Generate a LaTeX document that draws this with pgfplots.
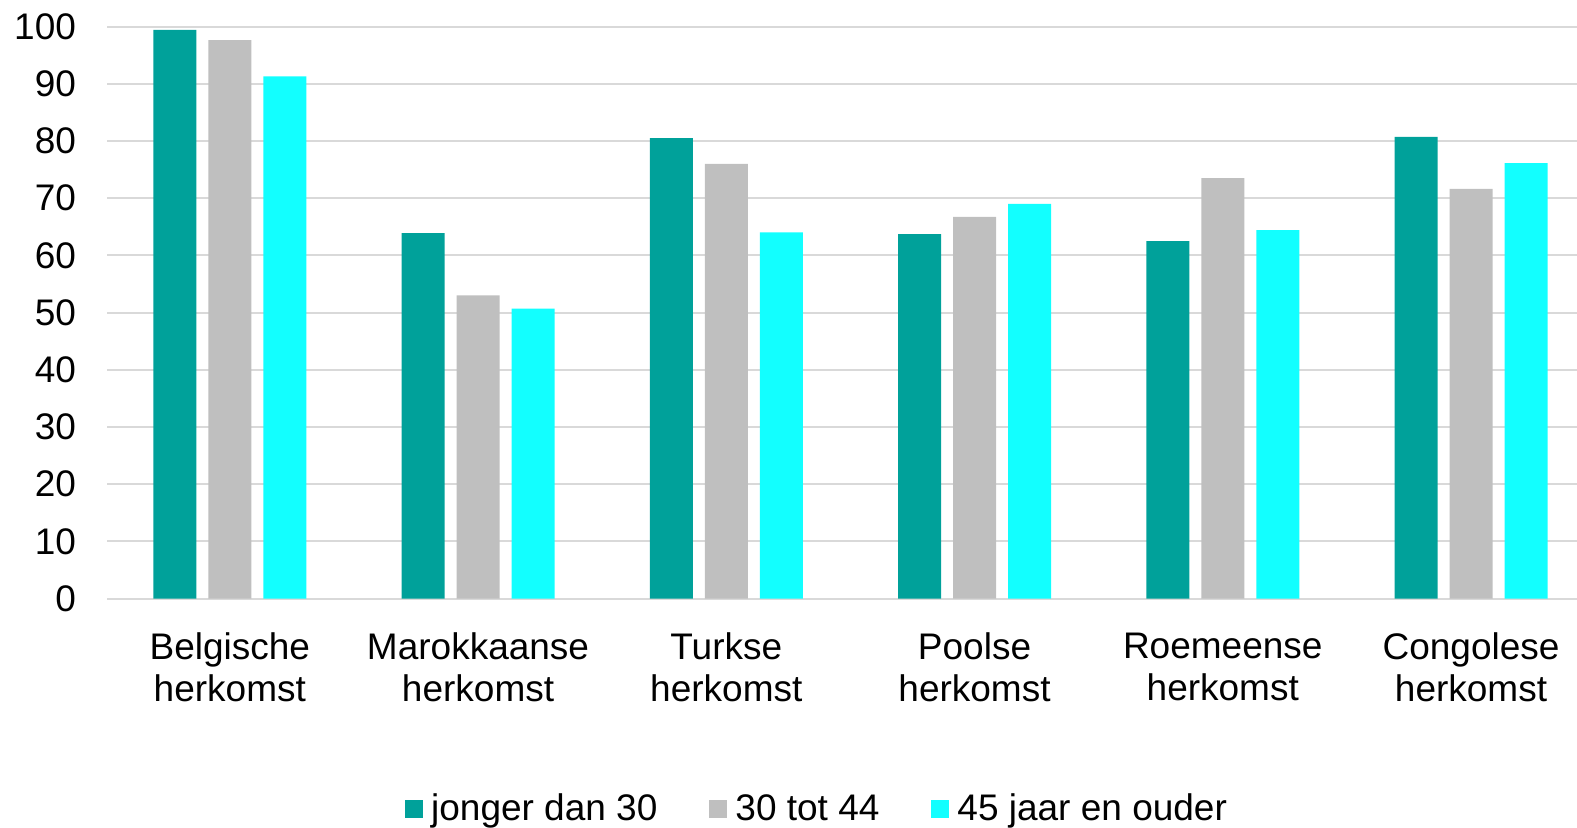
\documentclass[border=0pt]{standalone}
\usepackage{fontspec}
\setmainfont{Liberation Sans}
\usepackage{pgfplots}
\pgfplotsset{compat=1.18}
\definecolor{cteal}{RGB}{0,161,154}
\definecolor{cgray}{RGB}{191,191,191}
\definecolor{ccyan}{RGB}{18,255,255}
\definecolor{gridc}{RGB}{217,217,217}
\begin{document}
\begin{tikzpicture}
\begin{axis}[
  scale only axis,
  width=735pt, height=286pt,
  xmin=-0.4947, xmax=5.427,
  ymin=0, ymax=100,
  enlargelimits=false,
  ybar=6pt, bar width=21.5pt,
  xtick={0,1,2,3,4,5},
  xticklabels={{Belgische\\herkomst},{Marokkaanse\\herkomst},{Turkse\\herkomst},{Poolse\\herkomst},{Roemeense\\herkomst},{Congolese\\herkomst}},
  ytick={0,10,...,100},
  /pgf/number format/assume math mode=true,
  ymajorgrids,
  grid style={line width=1pt, gridc},
  axis x line*=bottom, axis y line*=left,
  x axis line style={line width=1pt, gridc},
  y axis line style={draw=none},
  major tick length=0pt,
  tick label style={font=\fontsize{18.5}{21}\selectfont},
  xticklabel style={align=center, yshift=-13.5pt},
  yticklabel style={xshift=-12pt},
  legend columns=3,
  legend style={draw=none, fill=none, at={(0.4837,-0.368)}, anchor=center,
    font=\fontsize{18.5}{21}\selectfont,
    /tikz/every odd column/.append style={column sep=2pt},
    /tikz/every even column/.append style={column sep=24pt}},
  legend image code/.code={\path[#1, draw=none] (0pt,-4.5pt) rectangle (9pt,4.5pt);},
]
\addplot[fill=cteal, draw=none] coordinates {(0,99.4) (1,63.9) (2,80.5) (3,63.7) (4,62.5) (5,80.7)};
\addplot[fill=cgray, draw=none] coordinates {(0,97.6) (1,53.0) (2,76.0) (3,66.7) (4,73.5) (5,71.6)};
\addplot[fill=ccyan, draw=none] coordinates {(0,91.3) (1,50.7) (2,64.0) (3,69.0) (4,64.4) (5,76.1)};
\legend{jonger dan 30, 30 tot 44, 45 jaar en ouder}
\end{axis}
\pgfresetboundingbox
\path (-53.5pt,-114.25pt) rectangle (735pt,299.25pt);
\end{tikzpicture}
\end{document}
